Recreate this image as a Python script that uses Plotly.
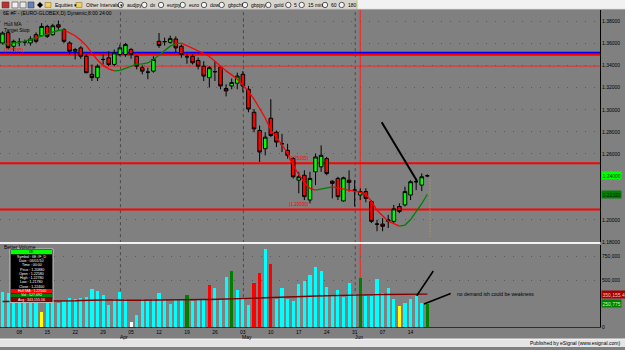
import plotly.graph_objects as go

# ---------------- data ----------------
bar_idx = list(range(77))  # daily bars, 03 Mar .. 17 Jun

opens = [1.3607, 1.3700, 1.3577, 1.3613, 1.3616, 1.3607, 1.3682, 1.3673, 1.3757, 1.3682,
         1.3772, 1.3727, 1.3607, 1.3532, 1.3562, 1.3486, 1.3322, 1.3292, 1.3457, 1.3472,
         1.3412, 1.3502, 1.3502, 1.3547, 1.3486, 1.3382, 1.3342, 1.3351, 1.3622, 1.3619,
         1.3613, 1.3643, 1.3577, 1.3481, 1.3486, 1.3448, 1.3396, 1.3292, 1.3346, 1.3387,
         1.3193, 1.3216, 1.3241, 1.3322, 1.3186, 1.2977, 1.2811, 1.2646, 1.2923, 1.2796,
         1.2691, 1.2631, 1.2556, 1.2360, 1.2405, 1.2180, 1.2436, 1.2481, 1.2556, 1.2351,
         1.2376, 1.2171, 1.2360, 1.2270, 1.2225, 1.2256, 1.2166, 1.1961, 1.1961, 1.1986,
         1.1986, 1.2121, 1.2135, 1.2225, 1.2346, 1.2315, 1.2400]
highs = [1.3712, 1.3712, 1.3637, 1.3652, 1.3637, 1.3667, 1.3703, 1.3787, 1.3772, 1.3781,
         1.3811, 1.3742, 1.3622, 1.3562, 1.3577, 1.3502, 1.3412, 1.3412, 1.3502, 1.3532,
         1.3547, 1.3592, 1.3607, 1.3562, 1.3493, 1.3403, 1.3382, 1.3486, 1.3697, 1.3655,
         1.3673, 1.3667, 1.3592, 1.3502, 1.3502, 1.3475, 1.3441, 1.3396, 1.3441, 1.3396,
         1.3232, 1.3283, 1.3337, 1.3351, 1.3216, 1.3006, 1.2856, 1.2796, 1.3096, 1.2811,
         1.2781, 1.2691, 1.2571, 1.2436, 1.2450, 1.2436, 1.2601, 1.2676, 1.2571, 1.2360,
         1.2391, 1.2391, 1.2450, 1.2360, 1.2286, 1.2286, 1.2180, 1.2000, 1.2015, 1.2045,
         1.2135, 1.2150, 1.2301, 1.2360, 1.2376, 1.2421, 1.2412]
lows = [1.3592, 1.3547, 1.3532, 1.3577, 1.3583, 1.3583, 1.3607, 1.3661, 1.3652, 1.3673,
        1.3727, 1.3607, 1.3502, 1.3457, 1.3463, 1.3331, 1.3261, 1.3261, 1.3412, 1.3396,
        1.3396, 1.3486, 1.3481, 1.3463, 1.3367, 1.3322, 1.3277, 1.3337, 1.3562, 1.3583,
        1.3601, 1.3523, 1.3472, 1.3418, 1.3412, 1.3367, 1.3261, 1.3202, 1.3261, 1.3186,
        1.3121, 1.3186, 1.3186, 1.3157, 1.2977, 1.2796, 1.2526, 1.2586, 1.2751, 1.2661,
        1.2616, 1.2556, 1.2376, 1.2241, 1.2180, 1.2150, 1.2315, 1.2436, 1.2405, 1.2195,
        1.2180, 1.2166, 1.2256, 1.2121, 1.2180, 1.2159, 1.1970, 1.1896, 1.1896, 1.1925,
        1.1970, 1.2060, 1.2121, 1.2180, 1.2270, 1.2261, 1.2387]
closes = [1.3697, 1.3565, 1.3622, 1.3613, 1.3616, 1.3643, 1.3622, 1.3757, 1.3667, 1.3763,
          1.3751, 1.3622, 1.3532, 1.3547, 1.3486, 1.3337, 1.3292, 1.3396, 1.3457, 1.3412,
          1.3517, 1.3562, 1.3592, 1.3502, 1.3396, 1.3351, 1.3342, 1.3457, 1.3583, 1.3619,
          1.3646, 1.3562, 1.3502, 1.3481, 1.3427, 1.3396, 1.3306, 1.3382, 1.3346, 1.3216,
          1.3171, 1.3247, 1.3306, 1.3216, 1.3006, 1.2826, 1.2616, 1.2751, 1.2766, 1.2706,
          1.2691, 1.2586, 1.2391, 1.2391, 1.2211, 1.2376, 1.2571, 1.2586, 1.2421, 1.2331,
          1.2211, 1.2382, 1.2340, 1.2270, 1.2256, 1.2195, 1.1986, 1.1961, 1.1941, 1.2000,
          1.2099, 1.2076, 1.2256, 1.2346, 1.2346, 1.2391, 1.2400]
hull_ma = [1.3596, 1.3601, 1.3605, 1.3612, 1.3623, 1.3637, 1.3650, 1.3668, 1.3689, 1.3706,
           1.3720, 1.3725, 1.3700, 1.3673, 1.3632, 1.3583, 1.3515, 1.3452, 1.3403, 1.3371,
           1.3353, 1.3358, 1.3376, 1.3398, 1.3414, 1.3416, 1.3425, 1.3457, 1.3497, 1.3538,
           1.3578, 1.3601, 1.3605, 1.3583, 1.3556, 1.3533, 1.3511, 1.3484, 1.3439, 1.3394,
           1.3353, 1.3317, 1.3277, 1.3223, 1.3168, 1.3096, 1.3015, 1.2925, 1.2817, 1.2750,
           1.2682, 1.2601, 1.2497, 1.2412, 1.2340, 1.2286, 1.2270, 1.2281, 1.2290, 1.2299,
           1.2290, 1.2281, 1.2272, 1.2265, 1.2250, 1.2232, 1.2168, 1.2087, 1.2033, 1.1988,
           1.1966, 1.1943, 1.1952, 1.2002, 1.2069, 1.2146, 1.2232]
volume_k = [376, 369, 347, 337, 356, 328, 352, 168, 309, 281,
            257, 281, 309, 299, 309, 323, 412, 387, 340, 235,
            305, 376, 305, 53, 127, 305, 281, 305, 369, 288,
            245, 305, 299, 340, 281, 299, 305, 446, 422, 299,
            538, 604, 397, 305, 235, 468, 573, 833, 678, 305,
            422, 305, 281, 457, 492, 552, 640, 604, 429, 335,
            397, 323, 474, 351, 527, 335, 335, 517, 369, 422,
            299, 228, 263, 299, 334, 256, 252]
vol_avg_k = [273, 273, 274, 274, 274, 275, 275, 276, 276, 277,
             277, 278, 279, 281, 283, 286, 288, 288, 289, 289,
             290, 290, 289, 287, 286, 286, 287, 287, 288, 288,
             288, 289, 290, 291, 291, 292, 294, 295, 296, 298,
             300, 302, 304, 305, 306, 308, 310, 313, 316, 318,
             319, 321, 323, 325, 327, 329, 331, 333, 335, 337,
             338, 340, 341, 342, 343, 344, 345, 346, 347, 348,
             349, 350, 350, 351, 351, 352, 352]
# Better Volume signal per bar: n normal, y low, w lowest, g churn, r climax
vol_signal = list("nnnnnnn" + "y" + "nnnnnnnnnnnnnnn" + "w" + "nnnnnnnnn" + "g" + "nnn" + "r"
                  + "nnn" + "g" + "nnn" + "r" + "r" + "n" + "r" + "nnnnnnnnnnnnnnn" + "g"
                  + "nnnnnn" + "y" + "nnnn" + "g")
assert len(vol_signal) == 77

# 1.22 / 1.24 and 250,000 ticks are hidden behind the value boxes in the reference
price_ticks = [1.18, 1.20, 1.26, 1.28, 1.30, 1.32, 1.34, 1.36, 1.38]
vol_ticks = [0, 500000, 750000]
date_tick_idx = [3, 8, 13, 18, 23, 28, 33, 38, 43, 48, 53, 58, 63, 68, 73]
date_tick_text = ["08", "15", "22", "29", "05", "12", "19", "26", "03", "10", "17", "24", "31", "07", "14"]
month_start_idx = [21, 43, 63]
month_text = ["Apr", "May", "Jun"]
cursor_idx = 64
blue_level = 1.3517
red_levels = [1.3500, 1.2514, 1.2094]
thin_red_level = 1.3396
level_labels = ["(1.35305)", "(1.25305)", "(1.20930)"]
last_price_text = "1.24000"
hull_last_text = "1.22320"
vol_avg_last_text = "350,155.4"
vol_last_text = "250,775"

volume = [v * 1000 for v in volume_k]
vol_avg = [v * 1000 for v in vol_avg_k]

# ---------------- styling / layout helpers ----------------
W, H = 625, 350
FONT = "Liberation Sans, Arial, sans-serif"
BG = "#808080"


def fx(xp):
    return xp / W


def fy(yp):
    return 1 - yp / H


SPACING = 5.59
FIRST_X = 2.5
x_lo = -FIRST_X / SPACING
x_hi = (600 - FIRST_X) / SPACING
p_lo = 1.2 - (244 - 221.7) / 1110
p_hi = 1.2 + (221.7 - 10) / 1110

sig_color = {"n": "#00ffff", "y": "#ffff00", "w": "#ffffff", "g": "#008000", "r": "#ff0000"}

fig = go.Figure()

fig.add_trace(go.Candlestick(
    x=bar_idx, open=opens, high=highs, low=lows, close=closes,
    increasing=dict(line=dict(color="black", width=1), fillcolor="#00ff00"),
    decreasing=dict(line=dict(color="black", width=1), fillcolor="#ff0000"),
    whiskerwidth=0, xaxis="x", yaxis="y", showlegend=False, hoverinfo="skip"))

# Hull MA coloured by direction
segs = []
start = 0
cur = hull_ma[1] >= hull_ma[0]
for i in range(1, len(hull_ma) - 1):
    d = hull_ma[i + 1] >= hull_ma[i]
    if d != cur:
        segs.append((start, i, cur))
        start, cur = i, d
segs.append((start, len(hull_ma) - 1, cur))
for s, e, up in segs:
    fig.add_trace(go.Scatter(x=bar_idx[s:e + 1], y=hull_ma[s:e + 1], mode="lines",
                             line=dict(color="#008000" if up else "#ff0000", width=1.3),
                             xaxis="x", yaxis="y", showlegend=False, hoverinfo="skip"))

fig.add_trace(go.Bar(x=bar_idx, y=volume, width=0.56,
                     marker=dict(color=[sig_color[s] for s in vol_signal], line=dict(width=0)),
                     xaxis="x", yaxis="y2", showlegend=False, hoverinfo="skip"))
fig.add_trace(go.Scatter(x=bar_idx, y=vol_avg, mode="lines", line=dict(color="#800000", width=1.4),
                         xaxis="x", yaxis="y2", showlegend=False, hoverinfo="skip"))

shapes = []
ann = []


def txt(x, y, s, size=5, color="black", xanchor="left", **kw):
    d = dict(x=fx(x), y=fy(y), xref="paper", yref="paper", text=s, showarrow=False,
             xanchor=xanchor, yanchor="middle", font=dict(family=FONT, size=size, color=color))
    d.update(kw)
    ann.append(d)


def pline(x0, y0, x1, y1, color, width=1, dash=None, layer="above"):
    shapes.append(dict(type="line", xref="paper", yref="paper", x0=fx(x0), y0=fy(y0), x1=fx(x1), y1=fy(y1),
                       line=dict(color=color, width=width, dash=dash), layer=layer))


def prect(x0, y0, x1, y1, fill, line=None, lw=0, layer="above"):
    shapes.append(dict(type="rect", xref="paper", yref="paper", x0=fx(x0), y0=fy(y0), x1=fx(x1), y1=fy(y1),
                       fillcolor=fill, line=dict(color=line or fill, width=lw), layer=layer))


# month separators and cursor
for m in month_start_idx:
    shapes.append(dict(type="line", xref="x", yref="paper", x0=m + 0.1, x1=m + 0.1, y0=fy(330), y1=fy(10),
                       line=dict(color="#4a4a4a", width=1, dash="3px,3px"), layer="below"))
shapes.append(dict(type="line", xref="x", yref="paper", x0=cursor_idx, x1=cursor_idx, y0=fy(330), y1=fy(10),
                   line=dict(color="#ff2020", width=1), layer="below"))

# horizontal levels
shapes.append(dict(type="line", xref="paper", yref="y", x0=0, x1=fx(600), y0=blue_level, y1=blue_level,
                   line=dict(color="#0000ff", width=2), layer="below"))
for lv in red_levels:
    shapes.append(dict(type="line", xref="paper", yref="y", x0=0, x1=fx(600), y0=lv, y1=lv,
                       line=dict(color="#ff0000", width=2), layer="below"))
shapes.append(dict(type="line", xref="paper", yref="y", x0=0, x1=fx(600), y0=thin_red_level, y1=thin_red_level,
                   line=dict(color="#e03030", width=1), layer="below"))

# level labels
ann.append(dict(x=fx(2), y=red_levels[0], xref="paper", yref="y", text=level_labels[0], showarrow=False,
                xanchor="left", yanchor="bottom", font=dict(family=FONT, size=4.5, color="#ff0000")))
for lv, lab in zip(red_levels[1:], level_labels[1:]):
    ann.append(dict(x=fx(299), y=lv, xref="paper", yref="y", text=lab, showarrow=False,
                    xanchor="center", yanchor="bottom", font=dict(family=FONT, size=4.5, color="#ff0000")))

# target stop dotted marker
pline(430, 181, 430, 239, "#b8a850", 1, "1px,2px")

# panel separator
pline(0, 245, 600, 245, "#f2f2f2", 2)

# annotation lines
pline(381.7, 123.3, 417, 182.5, "black", 2)
pline(433.3, 273.3, 416.7, 298.3, "black", 1.6)
pline(450.7, 296, 424, 306.7, "black", 1.6)
txt(455, 296.7, "no demand ish could be weakness", 5)

# right-axis value boxes
for yv, s, bg, fc, yr in [(closes[-1], last_price_text, "#00ff00", "#004000", "y"),
                          (hull_ma[-1], hull_last_text, "#008000", "#002000", "y"),
                          (vol_avg[-1], vol_avg_last_text, "#a00000", "#ffc0c0", "y2"),
                          (volume[-1], vol_last_text, "#008000", "#c0ffc0", "y2")]:
    ann.append(dict(x=fx(600.5), y=yv, xref="paper", yref=yr, text=s, showarrow=False, xanchor="left",
                    yanchor="middle", bgcolor=bg, borderpad=0.5,
                    font=dict(family=FONT, size=5, color=fc)))

# chart texts
txt(1, 13, "6E #F - (EURO-GLOBEX,D) Dynamic,8:00 24:00", 5)
txt(2, 24.7, "Hull MA", 5)
txt(2, 30.7, "Target Stop", 5)
txt(2, 249.5, "Better Volume", 5)
for m, t in zip(month_start_idx, month_text):
    ann.append(dict(x=m + 0.8, y=fy(340), xref="x", yref="paper", text=t, showarrow=False,
                    xanchor="center", yanchor="middle", font=dict(family=FONT, size=5, color="black")))

# data window
prect(10, 251, 53, 305, "#000000", "#c8c8c8", 1)
prect(11, 252, 52, 256.5, "#00ff00")
txt(31.5, 254.3, "6E", 3.6, "black", "center")
rows = ["Symbol : 6E #F_D", "Date : 06/01/10", "Time : 00:00", "Price : 1.20880", "Open : 1.22580",
        "High : 1.22780", "Low : 1.21780", "Close : 1.22400"]
ys = [259, 263.3, 267.7, 272, 276.3, 280.6, 284.9, 289.2]
for r, yy in zip(rows, ys):
    txt(31.5, yy, r, 3.6, "white", "center")
prect(11, 291.5, 52, 295.5, "#ff0000")
txt(31.5, 293.5, "Hull MA : 1.22500", 3.6, "white", "center")
prect(11, 296, 52, 300, "#008000")
txt(31.5, 298, "Vol : 527,692", 3.6, "white", "center")
prect(11, 300.5, 52, 304.5, "#800000")
txt(31.5, 302.5, "Avg : 343,155.56", 3.6, "white", "center")

# toolbar
prect(0, 0, 357, 9.5, "#d8d5cf", layer="above")
prect(357, 0, 625, 9.5, "#f1f1f1", layer="above")
pline(0, 9.5, 625, 9.5, "#a0a0a0", 1)
for (a, b, c) in [(2, 9, "#c03030"), (12, 18, "#f0f0f0"), (20, 26, "#e8e8e8"), (28, 34, "#6080c0")]:
    prect(a, 2, b, 8, c, "#404040", 0.6)
shapes.append(dict(type="path", xref="paper", yref="paper",
                   path=f"M {fx(40)} {fy(2)} L {fx(43)} {fy(5)} L {fx(40)} {fy(8)} L {fx(37)} {fy(5)} Z",
                   fillcolor="black", line=dict(width=0)))
prect(45, 2.5, 51, 7.5, "#f0d060", "#806020", 0.5)
txt(53, 5, "Equities ▾", 5)
prect(76, 2.5, 82, 7.5, "#f0d060", "#806020", 0.5)
txt(84, 5, "Other Intervals ▾", 5)
tb = [(120.7, "audjpy"), (144.3, "dx"), (161, "eurjpy"), (182.7, "euro"), (204, "dow"), (221.7, "gbpchf"),
      (245, "gbpjpy"), (268.3, "gold"), (288.3, "5"), (301.7, "15 min"), (325, "60"), (341.7, "180")]
for cx, s in tb:
    shapes.append(dict(type="circle", xref="paper", yref="paper", x0=fx(cx - 2.7), x1=fx(cx + 2.7),
                       y0=fy(7.7), y1=fy(2.3), line=dict(color="#303030", width=0.8), fillcolor="#f4f4f4"))
    txt(cx + 4, 5, s, 5)
pline(357, 0.5, 357, 9, "#d0c060", 1)

# footer
prect(0, 342, 625, 350, "#e4e4e4", layer="above")
pline(0, 342, 625, 342, "#fafafa", 1)
txt(622, 346.3, "Published by eSignal (www.esignal.com)", 5, "black", "right")

fig.update_layout(
    width=W, height=H, margin=dict(l=0, r=0, t=0, b=0),
    paper_bgcolor=BG, plot_bgcolor=BG, showlegend=False, hovermode=False,
    bargap=0, boxgap=0.2, boxgroupgap=0.2,
    shapes=shapes, annotations=ann,
    font=dict(family=FONT, size=5, color="black"),
    xaxis=dict(domain=[0, fx(600)], range=[x_lo, x_hi], anchor="y2", rangeslider=dict(visible=False),
               tickvals=date_tick_idx, ticktext=date_tick_text, ticks="", showgrid=False,
               showline=True, linecolor="#303030", linewidth=1, zeroline=False,
               tickfont=dict(family=FONT, size=5, color="black")),
    yaxis=dict(domain=[fy(244), fy(10)], range=[p_lo, p_hi], side="right", anchor="x",
               tickvals=price_ticks, tickformat=".5f", ticks="", showline=True, linecolor="black",
               linewidth=1, showgrid=True, gridcolor="#5a5a5a", griddash="1px,8px", gridwidth=1,
               zeroline=False, tickfont=dict(family=FONT, size=5, color="black")),
    yaxis2=dict(domain=[fy(330), fy(247)], range=[0, 875600], side="right", anchor="x",
                tickvals=vol_ticks, tickformat=",d", ticks="", showline=True, linecolor="black",
                linewidth=1, showgrid=True, gridcolor="#5a5a5a", griddash="1px,8px", gridwidth=1,
                zeroline=False, tickfont=dict(family=FONT, size=5, color="black")),
)

fig.write_html("out.html", config={"displayModeBar": False})
